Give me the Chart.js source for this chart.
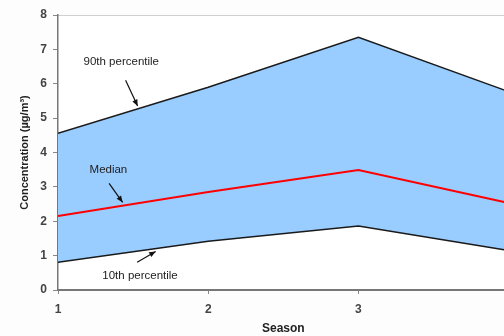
<!DOCTYPE html>
<html>
<head>
<meta charset="utf-8">
<script src="https://cdn.jsdelivr.net/npm/chart.js@4"></script>
<style>
  html, body { margin: 0; padding: 0; overflow: hidden; background: #fdfdfd; }
  #wrap { width: 520px; height: 336px; }
</style>
</head>
<body>
<div id="wrap"><canvas id="seasonChart" width="520" height="336"></canvas></div>
<script>
// season values (x axis)
var seasons = [1, 2, 3, 4];
var p10 = [0.81, 1.42, 1.86, 1.15];
var median = [2.15, 2.85, 3.49, 2.53];
var p90 = [4.56, 5.9, 7.35, 5.77];
var yTicks = [0, 1, 2, 3, 4, 5, 6, 7, 8];
var xTicks = [1, 2, 3, 4];

// text labels with arrows, in data units
var notes = [
    { text: '90th percentile', tx: 1.17, ty: 6.65, ax0: 1.45, ay0: 6.1, ax1: 1.53, ay1: 5.35 },
    { text: 'Median', tx: 1.21, ty: 3.5, ax0: 1.34, ay0: 3.1, ax1: 1.43, ay1: 2.55 },
    { text: '10th percentile', tx: 1.295, ty: 0.42, ax0: 1.527, ay0: 0.81, ax1: 1.65, ay1: 1.12 }
];

function pts(arr) {
    return seasons.map(function (s, i) { return { x: s, y: arr[i] }; });
}

var FONT = '"Liberation Sans", Arial, sans-serif';

var extras = {
    id: 'extras',
    beforeDraw: function (chart) {
        var a = chart.chartArea, c = chart.ctx;
        c.save();
        c.fillStyle = '#ffffff';
        c.fillRect(a.left, a.top, a.right - a.left, a.bottom - a.top);
        c.strokeStyle = '#d0d0d0';
        c.lineWidth = 1;
        c.beginPath();
        c.moveTo(a.left, a.top + 0.5);
        c.lineTo(a.right, a.top + 0.5);
        c.stroke();
        c.restore();
    },
    afterDraw: function (chart) {
        var xs = chart.scales.x, ys = chart.scales.y, c = chart.ctx;
        c.save();
        c.font = '11.5px ' + FONT;
        c.fillStyle = '#222';
        c.textBaseline = 'middle';
        notes.forEach(function (n) {
            c.fillText(n.text, xs.getPixelForValue(n.tx), ys.getPixelForValue(n.ty));
            var x0 = xs.getPixelForValue(n.ax0), y0 = ys.getPixelForValue(n.ay0);
            var x1 = xs.getPixelForValue(n.ax1), y1 = ys.getPixelForValue(n.ay1);
            c.strokeStyle = '#111';
            c.lineWidth = 1.2;
            c.beginPath();
            c.moveTo(x0, y0);
            c.lineTo(x1, y1);
            c.stroke();
            var ang = Math.atan2(y1 - y0, x1 - x0);
            c.beginPath();
            c.moveTo(x1, y1);
            c.lineTo(x1 - 7 * Math.cos(ang - 0.4), y1 - 7 * Math.sin(ang - 0.4));
            c.lineTo(x1 - 7 * Math.cos(ang + 0.4), y1 - 7 * Math.sin(ang + 0.4));
            c.closePath();
            c.fillStyle = '#111';
            c.fill();
            c.fillStyle = '#222';
        });
        c.restore();
    }
};

var ctx = document.getElementById('seasonChart').getContext('2d');
var seasonChart = new Chart(ctx, {
    type: 'line',
    data: {
        datasets: [
            {
                label: 'Median',
                data: pts(median),
                borderColor: '#ff0000',
                borderWidth: 2,
                pointRadius: 0,
                fill: false
            },
            {
                label: '10th percentile',
                data: pts(p10),
                borderColor: '#1a1a1a',
                borderWidth: 1.5,
                pointRadius: 0,
                fill: false
            },
            {
                label: '90th percentile',
                data: pts(p90),
                borderColor: '#1a1a1a',
                borderWidth: 1.5,
                pointRadius: 0,
                backgroundColor: '#99ccff',
                fill: 1
            }
        ]
    },
    options: {
        responsive: false,
        animation: false,
        events: [],
        layout: { padding: { top: 15, right: 6, left: 14, bottom: 0 } },
        scales: {
            x: {
                type: 'linear',
                min: 1,
                max: 4,
                afterBuildTicks: function (s) { s.ticks = xTicks.map(function (v) { return { value: v }; }); },
                afterFit: function (s) { s.height = 46; },
                grid: { display: true, drawOnChartArea: false, drawTicks: true, tickLength: 4, tickColor: '#888' },
                border: { display: true, color: '#777', width: 2 },
                ticks: { color: '#444', padding: 8, font: { family: FONT, size: 12, weight: 'bold' } },
                title: { display: true, text: 'Season', color: '#222', padding: { top: 9, bottom: 0 }, font: { family: FONT, size: 12, weight: 'bold' } }
            },
            y: {
                min: 0,
                max: 8,
                afterBuildTicks: function (s) { s.ticks = yTicks.map(function (v) { return { value: v }; }); },
                afterFit: function (s) { s.width = 44; },
                grid: { display: true, drawOnChartArea: false, tickLength: 5, tickColor: '#888' },
                border: { display: true, color: '#777', width: 1.5 },
                ticks: { color: '#444', padding: 6, font: { family: FONT, size: 12, weight: 'bold' } },
                title: { display: true, text: 'Concentration (µg/m³)', color: '#222', padding: { bottom: 0 }, font: { family: FONT, size: 11, weight: 'bold' } }
            }
        },
        plugins: {
            legend: { display: false },
            tooltip: { enabled: false }
        }
    },
    plugins: [extras]
});
</script>
</body>
</html>
